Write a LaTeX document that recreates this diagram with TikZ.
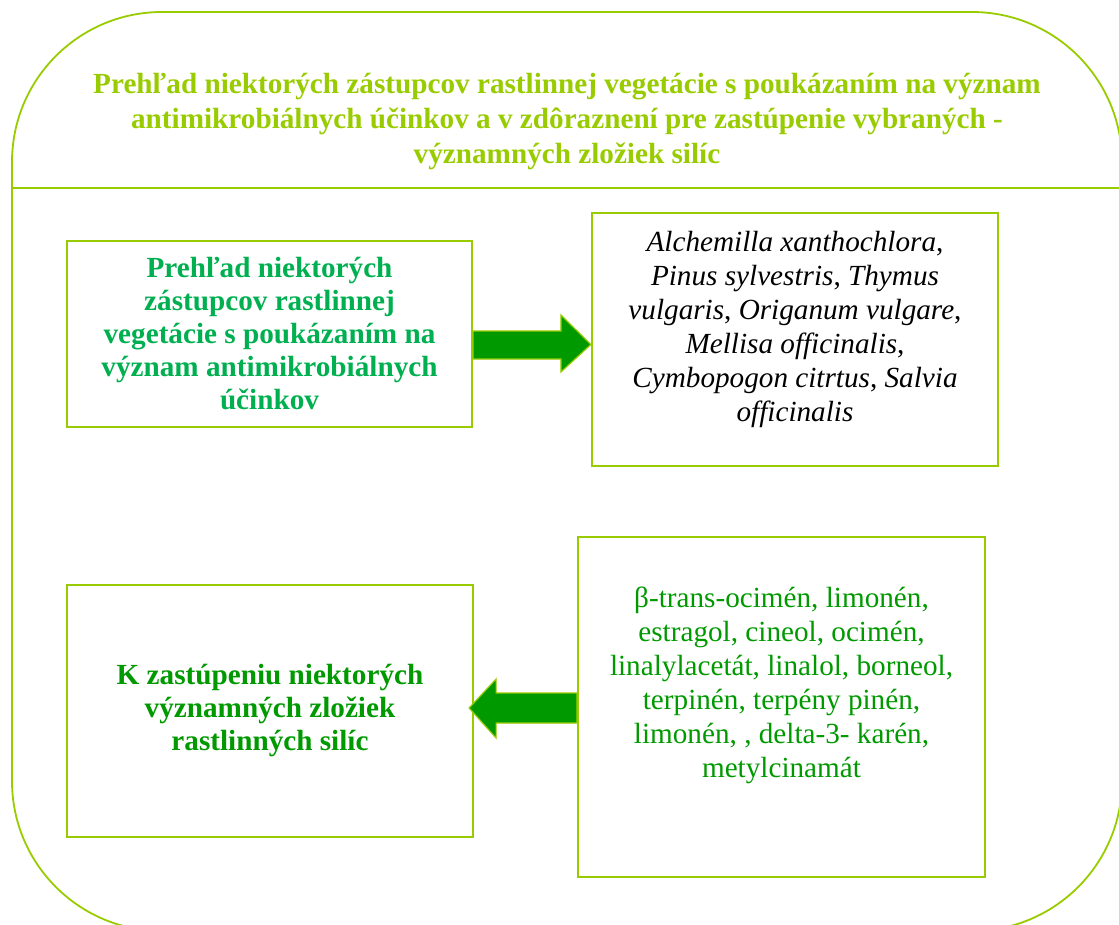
\documentclass[tikz,border=0pt]{standalone}
\usepackage{fontspec}
\setmainfont{Liberation Serif}
\usepackage[svgnames, dvipsnames]{xcolor}
\usetikzlibrary{calc}

\definecolor{limeframe}{RGB}{153,204,0}
\definecolor{leafgreen}{RGB}{0,176,80}
\definecolor{darkleaf}{RGB}{0,153,0}

\begin{document}
\begin{tikzpicture}[x=1pt, y=-1pt,
    mybox/.style={rectangle, draw=limeframe, line width=2.2pt, align=center, font=\fontsize{29.2}{34}\selectfont},
    blockarrow/.style={draw=limeframe, line width=1.2pt, fill=darkleaf, line join=miter}]
    \useasboundingbox (0,0) rectangle (1119,925);
    \clip (0,0) rectangle (1119,925);
    \node[rectangle, rounded corners=150pt, draw=limeframe, line width=1.8pt, minimum width=1110pt, minimum height=919pt] (frame) at (567,471.5) {}; % outer frame, runs off the page
    \draw[limeframe, line width=1.8pt] (frame.west |- 0,188) -- (frame.east |- 0,188);
    \node[align=center, text=limeframe, font=\fontsize{29.2}{35}\selectfont\bfseries] (title) at (567,122)
      {Prehľad niektorých zástupcov rastlinnej vegetácie s poukázaním na význam\\
       antimikrobiálnych účinkov a v zdôraznení pre zastúpenie vybraných -\\
       významných zložiek silíc};
    \node[mybox, text=leafgreen, font=\fontsize{29.2}{33}\selectfont\bfseries, minimum width=405pt, minimum height=186pt] (plants) at (269.5,334)
      {Prehľad niektorých\\ zástupcov rastlinnej\\ vegetácie s poukázaním na\\ význam antimikrobiálnych\\ účinkov};
    \node[mybox, minimum width=406pt, minimum height=253pt, text depth=27pt] (species) at (795,339.5)
      {\textit{Alchemilla xanthochlora}, \\ \textit{Pinus sylvestris}, \textit{Thymus}\\
       \textit{vulgaris}, \textit{Origanum vulgare},\\ \textit{Mellisa officinalis},\\
       \textit{Cymbopogon citrtus}, \textit{Salvia}\\ \textit{officinalis}};
    \node[mybox, text=darkleaf, minimum width=407pt, minimum height=340pt, text depth=49pt] (compounds) at (781.5,707)
      {β-trans-ocimén, limonén,\\ estragol, cineol, ocimén,\\ linalylacetát, linalol, borneol,\\
       terpinén, terpény pinén,\\ limonén, , delta-3- karén,\\ metylcinamát};
    \node[mybox, text=darkleaf, font=\fontsize{29.2}{33}\selectfont\bfseries, minimum width=406pt, minimum height=252pt] (oils) at (270,711)
      {K zastúpeniu niektorých\\ významných zložiek\\ rastlinných silíc};
    % block arrows between the boxes
    \draw[blockarrow] ($(plants.east)+(0,-3)$) -- ($(plants.east -| species.west)+(-30,-3)$)
      -- ($(plants.east -| species.west)+(-30,-19)$) -- ($(plants.east -| species.west)+(0,10.5)$)
      -- ($(plants.east -| species.west)+(-30,38)$) -- ($(plants.east -| species.west)+(-30,25)$)
      -- ($(plants.east)+(0,25)$) -- cycle;
    \draw[blockarrow] ($(compounds.west)+(0,-14)$) -- ($(compounds.west -| oils.east)+(22,-14)$)
      -- ($(compounds.west -| oils.east)+(22,-28)$) -- ($(compounds.west -| oils.east)+(-5,1)$)
      -- ($(compounds.west -| oils.east)+(22,31)$) -- ($(compounds.west -| oils.east)+(22,16)$)
      -- ($(compounds.west)+(0,16)$) -- cycle;
\end{tikzpicture}
\end{document}
